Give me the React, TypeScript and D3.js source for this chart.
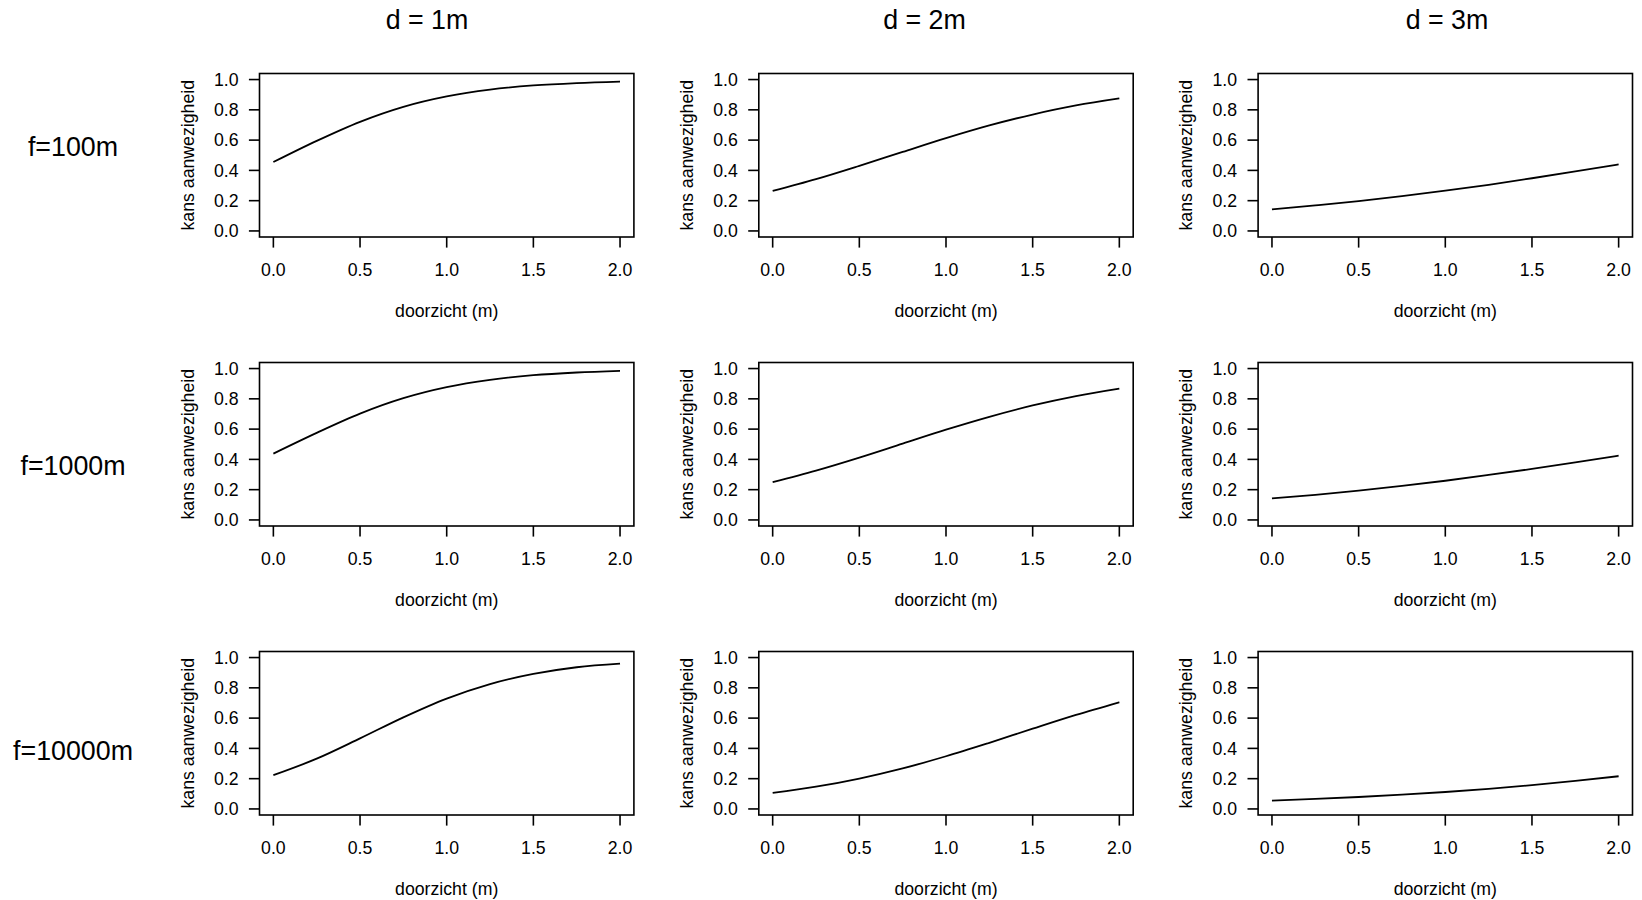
import React from "react";
import * as d3 from "d3";

// ---- data ----
const X_VALUES = [0, 0.25, 0.5, 0.75, 1.0, 1.25, 1.5, 1.75, 2.0];
const COL_LABELS = ["d = 1m", "d = 2m", "d = 3m"];
const ROW_LABELS = ["f=100m", "f=1000m", "f=10000m"];
const X_TICKS = [0, 0.5, 1.0, 1.5, 2.0];
const Y_TICKS = [0, 0.2, 0.4, 0.6, 0.8, 1.0];
const X_TITLE = "doorzicht (m)";
const Y_TITLE = "kans aanwezigheid";

const P_F100_D1 = [0.455, 0.595, 0.721, 0.82, 0.889, 0.934, 0.961, 0.977, 0.987];
const P_F100_D2 = [0.264, 0.342, 0.43, 0.522, 0.613, 0.697, 0.769, 0.829, 0.875];
const P_F100_D3 = [0.143, 0.169, 0.197, 0.23, 0.266, 0.305, 0.348, 0.393, 0.44];
const P_F1000_D1 = [0.438, 0.575, 0.702, 0.804, 0.877, 0.925, 0.956, 0.974, 0.985];
const P_F1000_D2 = [0.25, 0.326, 0.412, 0.504, 0.596, 0.681, 0.756, 0.818, 0.867];
const P_F1000_D3 = [0.142, 0.166, 0.194, 0.225, 0.259, 0.297, 0.337, 0.38, 0.425];
const P_F10000_D1 = [0.223, 0.332, 0.466, 0.605, 0.729, 0.825, 0.892, 0.936, 0.96];
const P_F10000_D2 = [0.106, 0.147, 0.201, 0.268, 0.348, 0.437, 0.53, 0.621, 0.705];
const P_F10000_D3 = [0.055, 0.066, 0.079, 0.094, 0.112, 0.133, 0.157, 0.185, 0.216];

const SERIES = [
  [P_F100_D1, P_F100_D2, P_F100_D3],
  [P_F1000_D1, P_F1000_D2, P_F1000_D3],
  [P_F10000_D1, P_F10000_D2, P_F10000_D3],
];

// ---- layout ----
const W = 1642;
const H = 900;
const COL_LEFT = [259.5, 758.8, 1258.1];
const ROW_TOP = [73.5, 362.5, 651.5];
const BOX_W = 374.4;
const BOX_H = 163.5;
const COL_TITLE_X = [427, 924.5, 1447];
const ROW_LABEL_Y = [156, 475, 760];
const ROW_LABEL_X = 73;
const FONT = "'Liberation Sans', Arial, Helvetica, sans-serif";
const FS = 17.7;
const FS_BIG = 26.8;
const TICK = 10.6;
const fmt = d3.format(".1f");

function Panel({ left, top, values }: { left: number; top: number; values: number[] }) {
  const x = d3.scaleLinear().domain([-0.08, 2.08]).range([left, left + BOX_W]);
  const y = d3.scaleLinear().domain([-0.04, 1.04]).range([top + BOX_H, top]);
  const line = d3
    .line<number>()
    .x((_, i) => x(X_VALUES[i]))
    .y((v) => y(v))
    .curve(d3.curveMonotoneX);
  const bottom = top + BOX_H;
  const cx = left + BOX_W / 2;
  const cy = top + BOX_H / 2;
  return (
    <g>
      <path d={line(values) || ""} fill="none" stroke="#000" strokeWidth={1.8} />
      <rect x={left} y={top} width={BOX_W} height={BOX_H} fill="none" stroke="#000" strokeWidth={1.6} />
      {X_TICKS.map((t) => (
        <g key={"x" + t}>
          <line x1={x(t)} x2={x(t)} y1={bottom} y2={bottom + TICK} stroke="#000" strokeWidth={1.6} />
          <text x={x(t)} y={bottom + 39} textAnchor="middle" fontSize={FS} fontFamily={FONT} fill="#000">
            {fmt(t)}
          </text>
        </g>
      ))}
      {Y_TICKS.map((t) => (
        <g key={"y" + t}>
          <line x1={left - TICK} x2={left} y1={y(t)} y2={y(t)} stroke="#000" strokeWidth={1.6} />
          <text x={left - 21} y={y(t) + 6.3} textAnchor="end" fontSize={FS} fontFamily={FONT} fill="#000">
            {fmt(t)}
          </text>
        </g>
      ))}
      <text x={cx} y={bottom + 80} textAnchor="middle" fontSize={FS} fontFamily={FONT} fill="#000">
        {X_TITLE}
      </text>
      <text
        transform={`translate(${left - 66},${cy}) rotate(-90)`}
        textAnchor="middle"
        fontSize={FS}
        fontFamily={FONT}
        fill="#000"
      >
        {Y_TITLE}
      </text>
    </g>
  );
}

export default function App() {
  return (
    <svg
      width={W}
      height={H}
      viewBox={`0 0 ${W} ${H}`}
      style={{ position: "absolute", left: 0, top: 0, background: "#fff" }}
    >
      <rect x={0} y={0} width={W} height={H} fill="#fff" />
      {COL_LABELS.map((c, j) => (
        <text
          key={c}
          x={COL_TITLE_X[j]}
          y={29}
          textAnchor="middle"
          fontSize={FS_BIG}
          fontFamily={FONT}
          fill="#000"
        >
          {c}
        </text>
      ))}
      {ROW_LABELS.map((r, i) => (
        <text key={r} x={ROW_LABEL_X} y={ROW_LABEL_Y[i]} textAnchor="middle" fontSize={FS_BIG} fontFamily={FONT} fill="#000">
          {r}
        </text>
      ))}
      {SERIES.map((row, i) =>
        row.map((vals, j) => <Panel key={`${i}-${j}`} left={COL_LEFT[j]} top={ROW_TOP[i]} values={vals} />)
      )}
    </svg>
  );
}
